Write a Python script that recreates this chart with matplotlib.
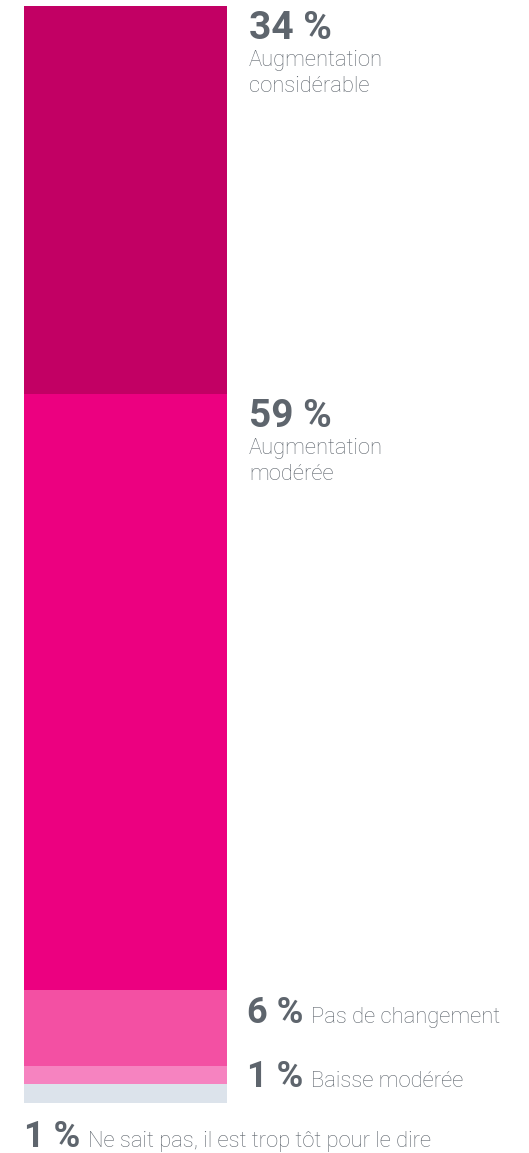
import matplotlib
matplotlib.use("Agg")
import matplotlib.pyplot as plt
import numpy as np

# Data (top to bottom of the stacked bar)
pct_labels = ["34 %", "59 %", "6 %", "1 %", "1 %"]
descriptions = [
    ["Augmentation", "considérable"],
    ["Augmentation", "modérée"],
    ["Pas de changement"],
    ["Baisse modérée"],
    ["Ne sait pas, il est trop tôt pour le dire"],
]
# share of the bar height each segment occupies, as drawn in the source
bar_share = [35.4, 54.3, 6.9, 1.7, 1.7]
colors = ["#C20064", "#EC0080", "#F350A3", "#F683C0", "#DCE3EB"]

TEXT_COLOR = "#5E656D"
FONT = ["Roboto", "DejaVu Sans"]
DPI = 100

fig = plt.figure(figsize=(5.29, 11.53), dpi=DPI)
W, H = 529, 1153
ax = fig.add_axes([24 / W, 50 / H, 203 / W, 1097 / H])

tops = np.concatenate([[0], np.cumsum(bar_share)[:-1]])
ax.bar(0, bar_share, bottom=tops, width=1.0, color=colors, edgecolor="none")
ax.set_xlim(-0.5, 0.5)
ax.set_ylim(sum(bar_share), 0)
ax.axis("off")

fig.canvas.draw()
renderer = fig.canvas.get_renderer()


def to_fig_y(y):
    return ax.transData.transform((0, y))[1] / fig.bbox.height


def number_then_text(x, y, num, desc, dy_px):
    t = fig.text(x, y + dy_px / H, num, fontsize=26, fontweight="bold",
                 color=TEXT_COLOR, family=FONT, va="baseline", ha="left")
    bb = t.get_window_extent(renderer)
    fig.text(x + (bb.width + 8) / W, y + dy_px / H, desc, fontsize=15.8,
             fontweight="light", color=TEXT_COLOR, family=FONT,
             va="baseline", ha="left")


label_x = 249 / W
# vertical offset (px) of inline labels from the middle of their segment
inline_dy = {2: 5, 3: -12}

for i, (num, desc) in enumerate(zip(pct_labels, descriptions)):
    top = tops[i]
    mid = top + bar_share[i] / 2
    if len(desc) > 1:
        # big segments: number under the top edge, description stacked below
        base = to_fig_y(top) - 33 / H
        fig.text(label_x, base, num, fontsize=28, fontweight="bold",
                 color=TEXT_COLOR, family=FONT, va="baseline", ha="left")
        for j, line in enumerate(desc):
            fig.text(label_x, base - (27 + 26 * j) / H, line, fontsize=15.8,
                     fontweight="light", color=TEXT_COLOR, family=FONT,
                     va="baseline", ha="left")
    elif i < len(pct_labels) - 1:
        # small segments: inline label next to the segment
        number_then_text(label_x - 2 / W, to_fig_y(mid), num, desc[0], inline_dy[i])
    else:
        # last category sits under the bar
        number_then_text(24 / W, to_fig_y(sum(bar_share)), num, desc[0], -44)

fig.savefig("out.png", dpi=DPI)
